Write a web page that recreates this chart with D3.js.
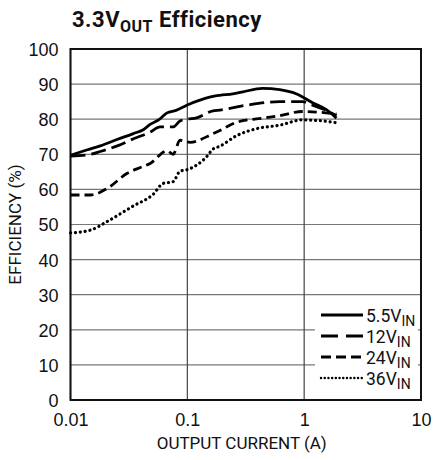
<!DOCTYPE html>
<html>
<head>
<meta charset="utf-8">
<script src="https://cdn.jsdelivr.net/npm/d3@7"></script>
<style>
  html, body { margin: 0; padding: 0; background: #fff; }
  svg { display: block; font-family: "Roboto", "Liberation Sans", sans-serif; }
</style>
</head>
<body>
<svg id="chart"></svg>
<script>
// ── data ──────────────────────────────────────────────────────────────────
const vin55Current = [0.010, 0.014, 0.018, 0.025, 0.0345, 0.042, 0.048, 0.058, 0.067, 0.080, 0.099, 0.13, 0.166, 0.19, 0.245, 0.30, 0.44, 0.617, 0.862, 1.18, 1.55, 1.89];
const vin55Eff     = [69.7, 71.3, 72.4, 74.2, 75.9, 77.0, 78.5, 80.0, 81.8, 82.5, 84.0, 85.5, 86.5, 86.8, 87.2, 87.8, 88.8, 88.4, 87.2, 84.7, 82.7, 80.3];

const vin12Current = [0.010, 0.0148, 0.018, 0.0252, 0.035, 0.048, 0.0585, 0.0755, 0.0866, 0.099, 0.12, 0.166, 0.19, 0.322, 0.617, 0.967, 1.18, 1.55, 1.89];
const vin12Eff     = [69.5, 70.0, 70.8, 72.4, 74.5, 76.3, 77.8, 77.8, 79.5, 80.0, 80.4, 82.4, 82.6, 84.0, 85.0, 85.0, 84.0, 82.5, 81.0];

const vin24Current = [0.010, 0.0148, 0.0207, 0.0306, 0.040, 0.0481, 0.0671, 0.0755, 0.0866, 0.1055, 0.166, 0.19, 0.264, 0.441, 0.617, 0.967, 1.34, 1.89];
const vin24Eff     = [58.4, 58.4, 60.3, 64.6, 66.3, 67.4, 71.0, 70.0, 74.0, 73.4, 75.9, 76.8, 79.1, 80.3, 81.0, 82.2, 82.0, 81.5];

const vin36Current = [0.010, 0.0148, 0.0207, 0.0345, 0.051, 0.062, 0.0755, 0.0866, 0.0991, 0.147, 0.166, 0.19, 0.264, 0.392, 0.617, 0.967, 1.34, 1.89];
const vin36Eff     = [47.6, 48.4, 50.9, 55.3, 58.6, 61.7, 62.2, 65.2, 65.6, 69.4, 71.5, 72.3, 75.3, 77.3, 78.3, 79.8, 79.6, 79.0];

const seriesNames = ["5.5", "12", "24", "36"];
const xTicks = [0.01, 0.1, 1, 10];
const xTickLabels = ["0.01", "0.1", "1", "10"];
const yTicks = [0, 10, 20, 30, 40, 50, 60, 70, 80, 90, 100];

// ── geometry ──────────────────────────────────────────────────────────────
const W = 434, H = 460;
const margin = { top: 49, right: 13, bottom: 60, left: 70.5 };
const innerW = W - margin.left - margin.right;
const innerH = H - margin.top - margin.bottom;

const svg = d3.select("#chart").attr("width", W).attr("height", H);
const g = svg.append("g").attr("transform", `translate(${margin.left},${margin.top})`);

const x = d3.scaleLog().domain([0.01, 10]).range([0, innerW]);
const y = d3.scaleLinear().domain([0, 100]).range([innerH, 0]);

// ── grid ──
g.append("g").selectAll("line").data(yTicks).join("line")
    .attr("x1", 0).attr("x2", innerW)
    .attr("y1", d => y(d)).attr("y2", d => y(d))
    .attr("stroke", "#777").attr("stroke-width", 1.2);

g.append("g").selectAll("line").data(xTicks).join("line")
    .attr("x1", d => x(d)).attr("x2", d => x(d))
    .attr("y1", 0).attr("y2", innerH)
    .attr("stroke", "#444").attr("stroke-width", 1.2);

// ── axes (labels only, frame drawn below) ──
const yAxis = g.append("g")
    .call(d3.axisLeft(y).tickValues(yTicks).tickSize(0).tickPadding(12));
yAxis.select(".domain").remove();
yAxis.selectAll("text")
    .attr("fill", "#111").style("font-size", "18px")
    .style("font-family", "inherit").attr("dy", "0.36em");

const xAxis = g.append("g")
    .attr("transform", `translate(0,${innerH})`)
    .call(d3.axisBottom(x).tickValues(xTicks).tickSize(0).tickPadding(13)
        .tickFormat((d, i) => xTickLabels[i]));
xAxis.select(".domain").remove();
xAxis.selectAll("text")
    .attr("fill", "#111").style("font-size", "18px")
    .style("font-family", "inherit");

// ── legend box (white, hides grid) ──
g.append("rect")
    .attr("x", 315 - margin.left).attr("y", 302 - margin.top)
    .attr("width", 103).attr("height", 86)
    .attr("fill", "#fff");

// frame
g.append("rect")
    .attr("width", innerW).attr("height", innerH)
    .attr("fill", "none").attr("stroke", "#111").attr("stroke-width", 2);

// ── curves ──
const styles = [
    { dash: null,        cap: "butt"  },
    { dash: "15,6",      cap: "butt"  },
    { dash: "9,5",       cap: "butt"  },
    { dash: "0.1,4.8",   cap: "round" },
];
const series = [
    d3.zip(vin55Current, vin55Eff),
    d3.zip(vin12Current, vin12Eff),
    d3.zip(vin24Current, vin24Eff),
    d3.zip(vin36Current, vin36Eff),
];

const line = d3.line()
    .x(d => x(d[0]))
    .y(d => y(d[1]))
    .curve(d3.curveMonotoneX);

series.forEach((pts, i) => {
    g.append("path")
        .datum(pts)
        .attr("d", line)
        .attr("fill", "none")
        .attr("stroke", "#000")
        .attr("stroke-width", i === 3 ? 3.2 : 2.8)
        .attr("stroke-linecap", styles[i].cap)
        .attr("stroke-dasharray", styles[i].dash);
});

// ── legend ──
const legend = svg.append("g");
const legY = [315, 336, 357, 378];
seriesNames.forEach((name, i) => {
    legend.append("line")
        .attr("x1", 321).attr("x2", 363)
        .attr("y1", legY[i]).attr("y2", legY[i])
        .attr("stroke", "#000")
        .attr("stroke-width", i === 3 ? 2.4 : 2.8)
        .attr("stroke-linecap", styles[i].cap)
        .attr("stroke-dasharray", i === 1 ? "17,8" : i === 2 ? "10,5" : i === 3 ? "0.1,3.6" : null);
    const t = legend.append("text")
        .attr("x", 366).attr("y", legY[i] + 7)
        .attr("fill", "#111").style("font-size", "17.5px");
    t.append("tspan").text(name + "V");
    t.append("tspan").attr("dy", 4).style("font-size", "14px").text("IN");
});

// ── titles ──
const title = svg.append("text")
    .attr("x", 72).attr("y", 27)
    .attr("fill", "#111")
    .style("font-size", "22px").style("font-weight", "bold")
    .style("letter-spacing", "0.5px");
title.append("tspan").text("3.3V");
title.append("tspan").attr("dy", 5).style("font-size", "16px").text("OUT");
title.append("tspan").attr("dy", -5).text(" Efficiency");

svg.append("text")
    .attr("x", margin.left + innerW / 2 - 4).attr("y", 449)
    .attr("text-anchor", "middle")
    .attr("fill", "#111").style("font-size", "17px")
    .text("OUTPUT CURRENT (A)");

svg.append("text")
    .attr("transform", `translate(21,${margin.top + innerH / 2}) rotate(-90)`)
    .attr("text-anchor", "middle")
    .attr("fill", "#111").style("font-size", "17px")
    .text("EFFICIENCY (%)");
</script>
</body>
</html>
